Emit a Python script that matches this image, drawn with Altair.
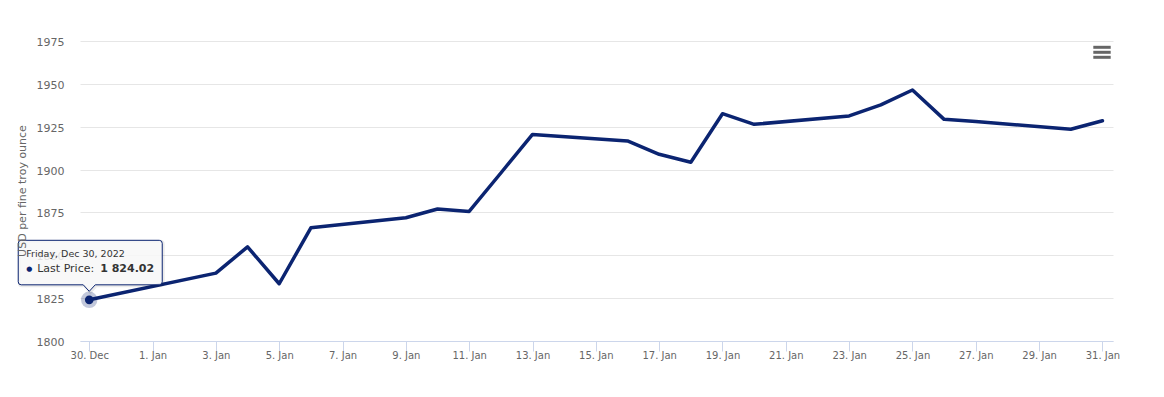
import altair as alt
import pandas as pd

# ---- data ----
DATES = ["2022-12-30", "2023-01-03", "2023-01-04", "2023-01-05", "2023-01-06",
         "2023-01-09", "2023-01-10", "2023-01-11", "2023-01-12", "2023-01-13",
         "2023-01-16", "2023-01-17", "2023-01-18", "2023-01-19", "2023-01-20",
         "2023-01-23", "2023-01-24", "2023-01-25", "2023-01-26", "2023-01-27",
         "2023-01-30", "2023-01-31"]
PRICES = [1824.02, 1839.6, 1854.9, 1833.4, 1866.0,
          1871.9, 1877.0, 1875.6, 1898.0, 1920.5,
          1916.7, 1908.9, 1904.3, 1932.6, 1926.4,
          1931.3, 1937.7, 1946.4, 1929.3, 1928.0,
          1923.5, 1928.5]
TICK_DATES = ["2022-12-30", "2023-01-01", "2023-01-03", "2023-01-05", "2023-01-07",
              "2023-01-09", "2023-01-11", "2023-01-13", "2023-01-15", "2023-01-17",
              "2023-01-19", "2023-01-21", "2023-01-23", "2023-01-25", "2023-01-27",
              "2023-01-29", "2023-01-31"]
Y_TICKS = [1800, 1825, 1850, 1875, 1900, 1925, 1950, 1975]
SERIES_NAME = "Last Price"
Y_TITLE = "USD per fine troy ounce"

NAVY = "#0b2471"
FONT = "DejaVu Sans"
GREY = "#666666"

df = pd.DataFrame({"date": [d + "T00:00:00" for d in DATES], "price": PRICES})


def dt(s, hours=0):
    t = pd.Timestamp(s)
    return alt.DateTime(year=t.year, month=t.month, date=t.day, hours=hours)


first = pd.DataFrame({
    "date": [df["date"][0]],
    "price": [PRICES[0]],
    "title": [pd.Timestamp(DATES[0]).strftime("%A, %b %d, %Y")],
    "label": [SERIES_NAME + ":"],
    "value": [f"{PRICES[0]:,.2f}".replace(",", " ")],
    "bullet": ["\u25cf"],
})

x_enc = alt.X(
    "date:T",
    title=None,
    scale=alt.Scale(domain=[dt("2022-12-29", 17), dt("2023-01-31", 8)]),
    axis=alt.Axis(values=[dt(s) for s in TICK_DATES], format="%-d. %b",
                  grid=False, domainColor="#ccd6eb", tickColor="#ccd6eb",
                  tickSize=10, labelPadding=-1, labelColor=GREY, labelFontSize=10,
                  labelFont=FONT, labelAngle=0),
)
y_enc = alt.Y(
    "price:Q",
    title=None,
    scale=alt.Scale(domain=[1800, 1975], nice=False, zero=False),
    axis=alt.Axis(values=Y_TICKS, format="d", grid=True, gridColor="#e6e6e6",
                  domain=False, ticks=False, tickSize=0, labelPadding=16,
                  labelColor=GREY, labelFontSize=11, labelFont=FONT,
                  labelOffset=1.5),
)

line = alt.Chart(df).mark_line(color=NAVY, strokeWidth=3.5, strokeJoin="round",
                               strokeCap="round").encode(x=x_enc, y=y_enc)

halo = alt.Chart(first).mark_point(filled=True, color=NAVY, opacity=0.25,
                                   size=270).encode(x=x_enc, y=y_enc)
dot = alt.Chart(first).mark_point(filled=True, color=NAVY, opacity=1,
                                  size=75).encode(x=x_enc, y=y_enc)

TIP = ("M-68,-59.5L70,-59.5Q73,-59.5 73,-56.5L73,-18Q73,-15 70,-15L6,-15"
       "L0,-8.5L-6,-15L-68,-15Q-71,-15 -71,-18L-71,-56.5Q-71,-59.5 -68,-59.5Z")
tip_shadow = alt.Chart(first).mark_point(
    shape=TIP, size=4, filled=False, stroke="#000000", strokeOpacity=0.08,
    strokeWidth=3, xOffset=1, yOffset=1, opacity=1
).encode(x=x_enc, y=y_enc)
tip = alt.Chart(first).mark_point(
    shape=TIP, size=4, filled=True, fill="#f7f7f7", fillOpacity=0.85,
    stroke=NAVY, strokeWidth=1, opacity=1
).encode(x=x_enc, y=y_enc)

t_title = alt.Chart(first).mark_text(
    align="left", baseline="middle", dx=-63, dy=-45.5, font=FONT, fontSize=9.5,
    color="#333333"
).encode(x=x_enc, y=y_enc, text="title:N")
t_bullet = alt.Chart(first).mark_text(
    align="center", baseline="middle", dx=-60, dy=-31, font=FONT, fontSize=7,
    color=NAVY
).encode(x=x_enc, y=y_enc, text="bullet:N")
t_label = alt.Chart(first).mark_text(
    align="left", baseline="middle", dx=-52, dy=-31, font=FONT, fontSize=11,
    color="#333333"
).encode(x=x_enc, y=y_enc, text="label:N")
t_value = alt.Chart(first).mark_text(
    align="left", baseline="middle", dx=11, dy=-31, font=FONT, fontSize=11,
    fontWeight="bold", color="#333333"
).encode(x=x_enc, y=y_enc, text="value:N")

one = pd.DataFrame({"k": [0]})
y_title = alt.Chart(one).mark_text(
    angle=270, align="center", baseline="middle", font=FONT, fontSize=11,
    color=GREY
).encode(x=alt.value(-57), y=alt.value(150), text=alt.value(Y_TITLE))

menu = [
    alt.Chart(one).mark_rule(color=GREY, strokeWidth=3, strokeCap="butt").encode(
        x=alt.value(1013.3), x2=alt.value(1030.7), y=alt.value(yy))
    for yy in (6.3, 11.3, 16.3)
]

chart = alt.layer(
    line, halo, dot, tip_shadow, tip, t_title, t_bullet, t_label, t_value,
    y_title, *menu
).properties(
    width=1033, height=300,
    autosize=alt.AutoSizeParams(type="none"),
    padding={"left": 72, "top": 33, "right": 30, "bottom": 40},
    background="#ffffff",
).configure(font=FONT).configure_view(stroke=None)

chart.save("out.html", embed_options={"renderer": "svg", "actions": False})
